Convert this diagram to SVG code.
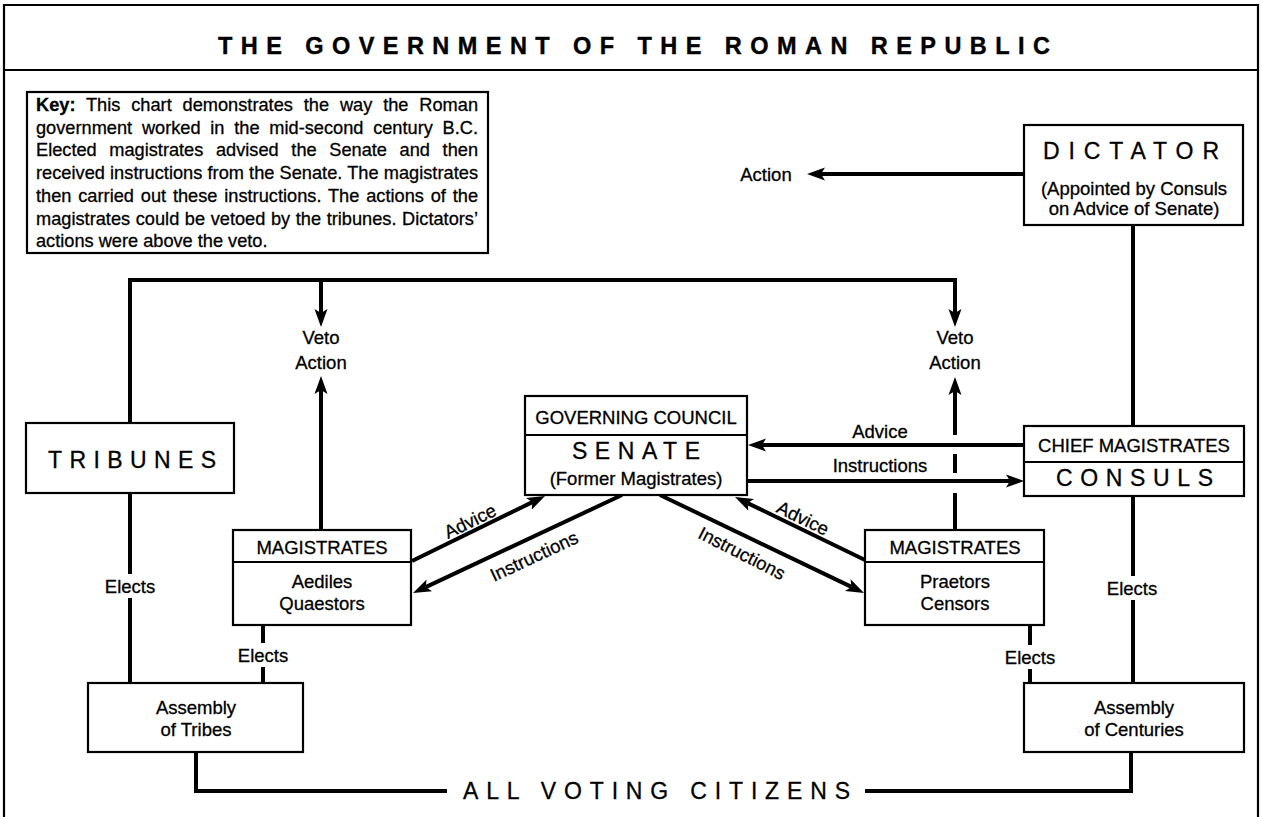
<svg xmlns="http://www.w3.org/2000/svg" width="1262" height="817" viewBox="0 0 1262 817">
<defs>
<marker id="ah" markerUnits="userSpaceOnUse" markerWidth="20" markerHeight="14" viewBox="0 -7 20 14" refX="4" refY="0" orient="auto">
<path d="M18,0 L0,-6.5 L4,0 L0,6.5 Z" fill="#000"/>
</marker>
<style>
.box{fill:#fff;stroke:#000;stroke-width:2.2}
.frame{fill:none;stroke:#000;stroke-width:2.2}
.conn{fill:none;stroke:#000;stroke-width:4}
.arr{fill:none;stroke:#000;stroke-width:4;marker-end:url(#ah)}
text{font-family:"Liberation Sans",Arial,Helvetica,sans-serif;fill:#000;stroke:#000;stroke-width:0.3}
.t{font-size:18.5px;text-anchor:middle}
.big{font-size:23px}
.key{font-size:18.2px}
.title{font-size:23.5px;font-weight:bold;stroke-width:0.4}
</style>
</defs>
<rect width="1262" height="817" fill="#fff"/>

<g id="frame">
<path class="frame" d="M4,817 V5 H1258 V817"/>
<line class="frame" x1="4" y1="70" x2="1258" y2="70"/>
<text class="title" x="218" y="54" textLength="832" lengthAdjust="spacing">THE GOVERNMENT OF THE ROMAN REPUBLIC</text>
</g>

<g id="key">
<rect class="box" x="27" y="92" width="461" height="161"/>
<text class="key" x="36" y="111" word-spacing="5.8" textLength="442" lengthAdjust="spacing"><tspan font-weight="bold">Key:</tspan> This chart demonstrates the way the Roman</text>
<text class="key" x="36" y="133.7" word-spacing="4.7" textLength="442" lengthAdjust="spacing">government worked in the mid-second century B.C.</text>
<text class="key" x="36" y="156.4" word-spacing="7.6" textLength="442" lengthAdjust="spacing">Elected magistrates advised the Senate and then</text>
<text class="key" x="36" y="179.1" textLength="442" lengthAdjust="spacing">received instructions from the Senate. The magistrates</text>
<text class="key" x="36" y="201.8" word-spacing="1.7" textLength="442" lengthAdjust="spacing">then carried out these instructions. The actions of the</text>
<text class="key" x="36" y="224.5" word-spacing="0.5" textLength="442" lengthAdjust="spacing">magistrates could be vetoed by the tribunes. Dictators’</text>
<text class="key" x="36" y="247.2">actions were above the veto.</text>
</g>

<g id="connectors">
<line class="arr" x1="1024" y1="174" x2="821" y2="174"/>
<line class="conn" x1="1133" y1="225" x2="1133" y2="426"/>
<path class="arr" d="M130,424 V280 H955 V313"/>
<line class="arr" x1="321" y1="280" x2="321" y2="313"/>
<line class="arr" x1="321" y1="530" x2="321" y2="390"/>
<line class="arr" x1="955" y1="435" x2="955" y2="391"/>
<line class="conn" x1="955" y1="454" x2="955" y2="473"/>
<line class="conn" x1="955" y1="493" x2="955" y2="530"/>
<line class="arr" x1="1024" y1="445" x2="762" y2="445"/>
<line class="arr" x1="747" y1="481" x2="1010" y2="481"/>
<line class="arr" x1="412" y1="561" x2="532.4" y2="502.1"/>
<line class="arr" x1="622" y1="495" x2="425.7" y2="587.1"/>
<line class="arr" x1="865" y1="560" x2="747.6" y2="503.1"/>
<line class="arr" x1="660" y1="495" x2="851.4" y2="586.9"/>
<line class="conn" x1="130" y1="493" x2="130" y2="574"/>
<line class="conn" x1="130" y1="598" x2="130" y2="683"/>
<line class="conn" x1="263" y1="625" x2="263" y2="643"/>
<line class="conn" x1="263" y1="667" x2="263" y2="683"/>
<line class="conn" x1="1133" y1="496" x2="1133" y2="576"/>
<line class="conn" x1="1133" y1="600" x2="1133" y2="683"/>
<line class="conn" x1="1030" y1="625" x2="1030" y2="645"/>
<line class="conn" x1="1030" y1="669" x2="1030" y2="683"/>
<path class="conn" d="M196,752 V791 H447"/>
<path class="conn" d="M865,791 H1131 V752"/>
<text class="t" x="766" y="180.6">Action</text>
<text class="t" x="321" y="343.6">Veto</text>
<text class="t" x="321" y="368.6">Action</text>
<text class="t" x="955" y="343.6">Veto</text>
<text class="t" x="955" y="368.6">Action</text>
<text class="t" x="880" y="437.6">Advice</text>
<text class="t" x="880" y="471.6">Instructions</text>
<text class="t" transform="translate(470,521) rotate(-26)" x="0" y="6.6">Advice</text>
<text class="t" transform="translate(534,556) rotate(-25)" x="0" y="6.6">Instructions</text>
<text class="t" transform="translate(803,518) rotate(26)" x="0" y="6.6">Advice</text>
<text class="t" transform="translate(742,553) rotate(27)" x="0" y="6.6">Instructions</text>
<text class="t" x="130" y="592.6">Elects</text>
<text class="t" x="263" y="661.6">Elects</text>
<text class="t" x="1132" y="594.6">Elects</text>
<text class="t" x="1030" y="663.6">Elects</text>
</g>

<g id="dictator">
<rect class="box" x="1024" y="125" width="219" height="100"/>
<text class="big" x="1043" y="158.5" textLength="176" lengthAdjust="spacing">DICTATOR</text>
<text class="t" x="1134" y="194.6">(Appointed by Consuls</text>
<text class="t" x="1134" y="215">on Advice of Senate)</text>
</g>

<g id="tribunes">
<rect class="box" x="26" y="423" width="208" height="70"/>
<text class="big" x="48" y="468.2" textLength="168" lengthAdjust="spacing">TRIBUNES</text>
</g>

<g id="senate">
<rect class="box" x="525" y="396" width="222" height="99"/>
<line class="box" x1="525" y1="435" x2="747" y2="435"/>
<text class="t" x="636" y="423.6">GOVERNING COUNCIL</text>
<text class="big" x="572" y="459.2" textLength="128" lengthAdjust="spacing">SENATE</text>
<text class="t" x="636" y="484.6">(Former Magistrates)</text>
</g>

<g id="consuls">
<rect class="box" x="1024" y="426" width="220" height="70"/>
<line class="box" x1="1024" y1="462" x2="1244" y2="462"/>
<text class="t" x="1134" y="451.6">CHIEF MAGISTRATES</text>
<text class="big" x="1056" y="486.2" textLength="157" lengthAdjust="spacing">CONSULS</text>
</g>

<g id="magistrates-left">
<rect class="box" x="233" y="530" width="178" height="95"/>
<line class="box" x1="233" y1="562" x2="411" y2="562"/>
<text class="t" x="322" y="553.6">MAGISTRATES</text>
<text class="t" x="322" y="587.6">Aediles</text>
<text class="t" x="322" y="609.6">Quaestors</text>
</g>

<g id="magistrates-right">
<rect class="box" x="865" y="530" width="179" height="95"/>
<line class="box" x1="865" y1="562" x2="1044" y2="562"/>
<text class="t" x="955" y="553.6">MAGISTRATES</text>
<text class="t" x="955" y="587.6">Praetors</text>
<text class="t" x="955" y="609.6">Censors</text>
</g>

<g id="assembly-tribes">
<rect class="box" x="88" y="683" width="215" height="69"/>
<text class="t" x="196" y="713.6">Assembly</text>
<text class="t" x="196" y="735.6">of Tribes</text>
</g>

<g id="assembly-centuries">
<rect class="box" x="1024" y="683" width="220" height="69"/>
<text class="t" x="1134" y="713.6">Assembly</text>
<text class="t" x="1134" y="735.6">of Centuries</text>
</g>

<g id="citizens">
<text class="big" x="463" y="799.2" textLength="387" lengthAdjust="spacing">ALL VOTING CITIZENS</text>
</g>
</svg>
